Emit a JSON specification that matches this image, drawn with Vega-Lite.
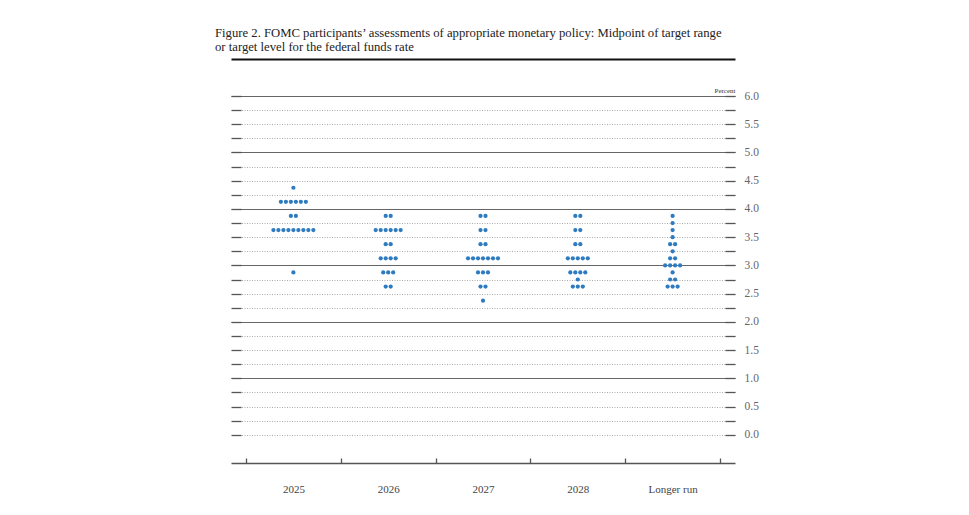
{
  "$schema": "https://vega.github.io/schema/vega-lite/v6.json",
  "autosize": "none",
  "width": 504,
  "height": 367,
  "padding": {"left": 231, "top": 96, "right": 234, "bottom": 52},
  "background": "white",
  "title": {
    "text": ["Figure 2. FOMC participants’ assessments of appropriate monetary policy: Midpoint of target range", "or target level for the federal funds rate"],
    "anchor": "start",
    "frame": "group",
    "dx": -16,
    "offset": 5,
    "font": "Liberation Serif",
    "fontSize": 12.7,
    "fontWeight": "normal",
    "color": "#222",
    "lineHeight": 14
  },
  "config": {
    "view": {"stroke": null},
    "axis": {"labelFont": "Liberation Serif", "titleFont": "Liberation Serif"}
  },
  "layer": [
    {
      "data": {
        "values": [
          {"p": "2025", "r": 4.375, "s": 0},
          {"p": "2025", "r": 4.125, "s": -2.5},
          {"p": "2025", "r": 4.125, "s": -1.5},
          {"p": "2025", "r": 4.125, "s": -0.5},
          {"p": "2025", "r": 4.125, "s": 0.5},
          {"p": "2025", "r": 4.125, "s": 1.5},
          {"p": "2025", "r": 4.125, "s": 2.5},
          {"p": "2025", "r": 3.875, "s": -0.5},
          {"p": "2025", "r": 3.875, "s": 0.5},
          {"p": "2025", "r": 3.625, "s": -4},
          {"p": "2025", "r": 3.625, "s": -3},
          {"p": "2025", "r": 3.625, "s": -2},
          {"p": "2025", "r": 3.625, "s": -1},
          {"p": "2025", "r": 3.625, "s": 0},
          {"p": "2025", "r": 3.625, "s": 1},
          {"p": "2025", "r": 3.625, "s": 2},
          {"p": "2025", "r": 3.625, "s": 3},
          {"p": "2025", "r": 3.625, "s": 4},
          {"p": "2025", "r": 2.875, "s": 0},

          {"p": "2026", "r": 3.875, "s": -0.5},
          {"p": "2026", "r": 3.875, "s": 0.5},
          {"p": "2026", "r": 3.625, "s": -2.5},
          {"p": "2026", "r": 3.625, "s": -1.5},
          {"p": "2026", "r": 3.625, "s": -0.5},
          {"p": "2026", "r": 3.625, "s": 0.5},
          {"p": "2026", "r": 3.625, "s": 1.5},
          {"p": "2026", "r": 3.625, "s": 2.5},
          {"p": "2026", "r": 3.375, "s": -0.5},
          {"p": "2026", "r": 3.375, "s": 0.5},
          {"p": "2026", "r": 3.125, "s": -1.5},
          {"p": "2026", "r": 3.125, "s": -0.5},
          {"p": "2026", "r": 3.125, "s": 0.5},
          {"p": "2026", "r": 3.125, "s": 1.5},
          {"p": "2026", "r": 2.875, "s": -1},
          {"p": "2026", "r": 2.875, "s": 0},
          {"p": "2026", "r": 2.875, "s": 1},
          {"p": "2026", "r": 2.625, "s": -0.5},
          {"p": "2026", "r": 2.625, "s": 0.5},

          {"p": "2027", "r": 3.875, "s": -0.5},
          {"p": "2027", "r": 3.875, "s": 0.5},
          {"p": "2027", "r": 3.625, "s": -0.5},
          {"p": "2027", "r": 3.625, "s": 0.5},
          {"p": "2027", "r": 3.375, "s": -0.5},
          {"p": "2027", "r": 3.375, "s": 0.5},
          {"p": "2027", "r": 3.125, "s": -3},
          {"p": "2027", "r": 3.125, "s": -2},
          {"p": "2027", "r": 3.125, "s": -1},
          {"p": "2027", "r": 3.125, "s": 0},
          {"p": "2027", "r": 3.125, "s": 1},
          {"p": "2027", "r": 3.125, "s": 2},
          {"p": "2027", "r": 3.125, "s": 3},
          {"p": "2027", "r": 2.875, "s": -1},
          {"p": "2027", "r": 2.875, "s": 0},
          {"p": "2027", "r": 2.875, "s": 1},
          {"p": "2027", "r": 2.625, "s": -0.5},
          {"p": "2027", "r": 2.625, "s": 0.5},
          {"p": "2027", "r": 2.375, "s": 0},

          {"p": "2028", "r": 3.875, "s": -0.5},
          {"p": "2028", "r": 3.875, "s": 0.5},
          {"p": "2028", "r": 3.625, "s": -0.5},
          {"p": "2028", "r": 3.625, "s": 0.5},
          {"p": "2028", "r": 3.375, "s": -0.5},
          {"p": "2028", "r": 3.375, "s": 0.5},
          {"p": "2028", "r": 3.125, "s": -2},
          {"p": "2028", "r": 3.125, "s": -1},
          {"p": "2028", "r": 3.125, "s": 0},
          {"p": "2028", "r": 3.125, "s": 1},
          {"p": "2028", "r": 3.125, "s": 2},
          {"p": "2028", "r": 2.875, "s": -1.5},
          {"p": "2028", "r": 2.875, "s": -0.5},
          {"p": "2028", "r": 2.875, "s": 0.5},
          {"p": "2028", "r": 2.875, "s": 1.5},
          {"p": "2028", "r": 2.75, "s": 0},
          {"p": "2028", "r": 2.625, "s": -1},
          {"p": "2028", "r": 2.625, "s": 0},
          {"p": "2028", "r": 2.625, "s": 1},

          {"p": "Longer run", "r": 3.875, "s": 0},
          {"p": "Longer run", "r": 3.75, "s": 0},
          {"p": "Longer run", "r": 3.625, "s": 0},
          {"p": "Longer run", "r": 3.5, "s": 0},
          {"p": "Longer run", "r": 3.375, "s": -0.5},
          {"p": "Longer run", "r": 3.375, "s": 0.5},
          {"p": "Longer run", "r": 3.25, "s": 0},
          {"p": "Longer run", "r": 3.125, "s": -0.5},
          {"p": "Longer run", "r": 3.125, "s": 0.5},
          {"p": "Longer run", "r": 3.0, "s": -1.5},
          {"p": "Longer run", "r": 3.0, "s": -0.5},
          {"p": "Longer run", "r": 3.0, "s": 0.5},
          {"p": "Longer run", "r": 3.0, "s": 1.5},
          {"p": "Longer run", "r": 2.875, "s": 0},
          {"p": "Longer run", "r": 2.75, "s": -0.5},
          {"p": "Longer run", "r": 2.75, "s": 0.5},
          {"p": "Longer run", "r": 2.625, "s": -1},
          {"p": "Longer run", "r": 2.625, "s": 0},
          {"p": "Longer run", "r": 2.625, "s": 1}
        ]
      },
      "mark": {"type": "circle", "size": 18, "opacity": 1, "color": "#2f7bbf"},
      "encoding": {
        "x": {
          "field": "p",
          "type": "nominal",
          "sort": ["2025", "2026", "2027", "2028", "Longer run"],
          "scale": {"domain": ["2025", "2026", "2027", "2028", "Longer run"], "paddingInner": 0, "paddingOuter": 0.158},
          "axis": {
            "orient": "bottom",
            "title": null,
            "labelAngle": 0,
            "tickBand": "extent",
            "tickSize": -5,
            "tickColor": "#555",
            "tickWidth": 1.3,
            "domainColor": "#555",
            "domainWidth": 1.5,
            "labelPadding": 25,
            "labelFontSize": 11,
            "labelColor": "#444"
          }
        },
        "xOffset": {
          "field": "s",
          "type": "nominal",
          "scale": {"type": "point", "domain": [-9.5, -9, -8.5, -8, -7.5, -7, -6.5, -6, -5.5, -5, -4.5, -4, -3.5, -3, -2.5, -2, -1.5, -1, -0.5, 0, 0.5, 1, 1.5, 2, 2.5, 3, 3.5, 4, 4.5, 5, 5.5, 6, 6.5, 7, 7.5, 8, 8.5, 9, 9.5], "padding": 0}
        },
        "y": {
          "field": "r",
          "type": "quantitative",
          "scale": {"domain": [-0.5, 6], "nice": false, "zero": false},
          "axis": {
            "orient": "right",
            "values": [0, 0.25, 0.5, 0.75, 1, 1.25, 1.5, 1.75, 2, 2.25, 2.5, 2.75, 3, 3.25, 3.5, 3.75, 4, 4.25, 4.5, 4.75, 5, 5.25, 5.5, 5.75, 6],
            "labelExpr": "(datum.value * 2) % 1 === 0 ? format(datum.value, '.1f') : ''",
            "domain": false,
            "tickSize": -10,
            "tickColor": "#555",
            "tickWidth": 1.3,
            "labelPadding": 19,
            "labelFontSize": 11.5,
            "labelColor": "#666",
            "labelBaseline": "middle",
            "grid": true,
            "gridColor": {"condition": {"test": "datum.value % 1 === 0 && datum.value > 0", "value": "#666"}, "value": "#aaa"},
            "gridDash": {"condition": {"test": "datum.value % 1 === 0 && datum.value > 0", "value": []}, "value": [1, 1.5]},
            "gridWidth": 1,
            "title": "Percent",
            "titleAngle": 0,
            "titleAlign": "right",
            "titleBaseline": "bottom",
            "titleX": 0,
            "titleY": -3,
            "titleFontSize": 7,
            "titleFontWeight": "normal",
            "titleColor": "#333"
          }
        }
      }
    },
    {
      "mark": {"type": "rule", "color": "#777", "strokeDash": [2, 2], "strokeWidth": 1},
      "encoding": {
        "x": {
          "datum": "Longer run",
          "type": "nominal",
          "bandPosition": 0,
          "axis": {
            "orient": "top",
            "offset": 37,
            "title": null,
            "labels": false,
            "ticks": false,
            "domainColor": "#111",
            "domainWidth": 2
          }
        },
        "y": {
          "datum": 6,
          "type": "quantitative",
          "axis": {
            "orient": "left",
            "values": [0, 0.25, 0.5, 0.75, 1, 1.25, 1.5, 1.75, 2, 2.25, 2.5, 2.75, 3, 3.25, 3.5, 3.75, 4, 4.25, 4.5, 4.75, 5, 5.25, 5.5, 5.75, 6],
            "labels": false,
            "domain": false,
            "grid": false,
            "tickSize": -10,
            "tickColor": "#555",
            "tickWidth": 1.3,
            "title": null
          }
        },
        "y2": {"datum": -0.5}
      }
    }
  ],
  "resolve": {"axis": {"x": "independent", "y": "independent"}}
}
